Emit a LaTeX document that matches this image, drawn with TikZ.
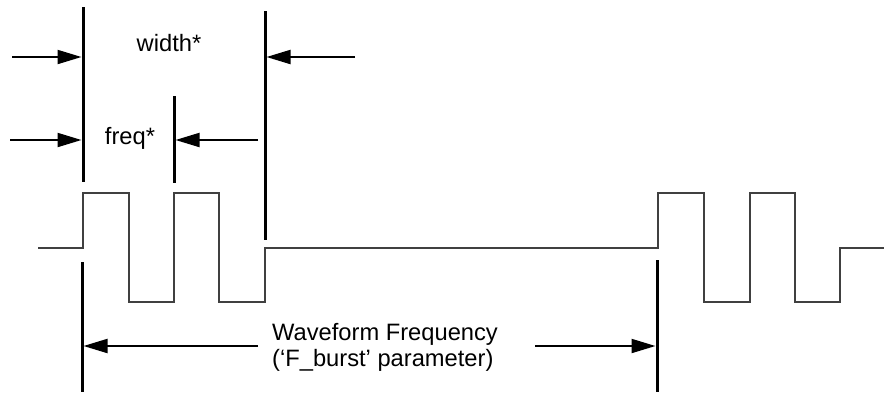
\documentclass[tikz,border=0pt]{standalone}
\usepackage{fontspec}
\setmainfont{Liberation Sans}
\usetikzlibrary{arrows.meta}

\begin{document}
\begin{tikzpicture}[x=1pt,y=-1pt,
      font=\fontsize{23.7}{26.5}\selectfont,
      marker/.style={line width=3pt},
      wave/.style={line width=1.5pt,black!75},
      arr/.style={-{Triangle[length=24pt,width=14pt]},line width=2pt},
      lbl/.style={inner sep=0pt}]
    \useasboundingbox (0,0) rectangle (884,392);
    % burst waveform
    \draw[wave] (38,248) -| (83,193) -| (129,302) -| (174,193) -| (219,302)
      -| (265,248) -| (658,193) -| (704,302) -| (750,193) -| (795,302)
      -| (840,248) -- (884,248);
    % marker lines
    \coordinate (wtop) at (83,7);   \coordinate (wbot) at (83,182);
    \coordinate (etop) at (265,11); \coordinate (ebot) at (265,240);
    \coordinate (ftop) at (174,96); \coordinate (fbot) at (174,183);
    \coordinate (ptop) at (82,262); \coordinate (pbot) at (82,392);
    \coordinate (qtop) at (657,260);\coordinate (qbot) at (657,392);
    \foreach \m in {w,e,f,p,q}
      \draw[marker] (\m top)--(\m bot);
    % dimension arrows
    \coordinate (win) at (12,57);   \coordinate (wout) at (355,57);
    \coordinate (fin) at (10,140);  \coordinate (fout) at (258,140);
    \coordinate (pin) at (258,346); \coordinate (qin) at (535,346);
    \draw[arr,shorten >=1.5pt] (win)--(win-|wtop);
    \draw[arr,shorten >=1.5pt] (wout)--(wout-|etop);
    \draw[arr,shorten >=1.5pt] (fin)--(fin-|wtop);
    \draw[arr,shorten >=1.5pt] (fout)--(fout-|ftop);
    \draw[arr,shorten >=1.5pt] (pin)--(pin-|ptop);
    \draw[arr,shorten >=1.5pt] (qin)--(qin-|qtop);
    % labels
    \node[lbl,anchor=base] (width) at (169,51) {width*};
    \node[lbl,anchor=base] (freq) at (130,144) {freq*};
    \node[lbl,anchor=base west,align=left] (period) at (272,366.5)
      {Waveform Frequency\\(`F\_burst' parameter)};
\end{tikzpicture}
\end{document}
